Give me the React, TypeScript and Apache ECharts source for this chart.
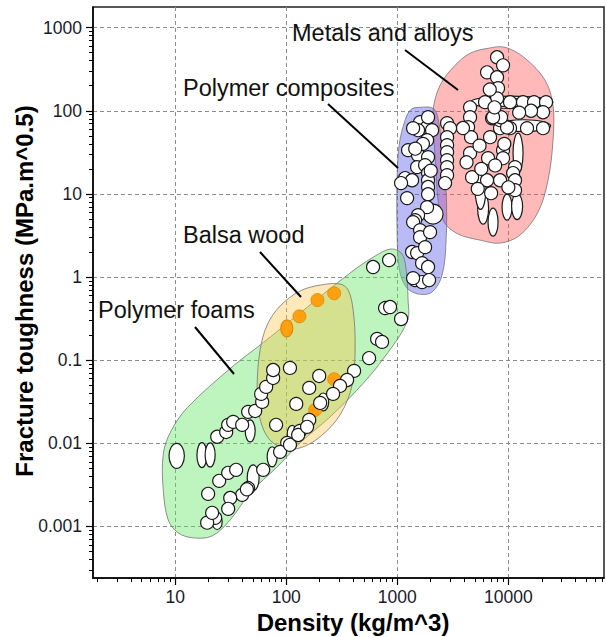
import { useEffect, useRef } from 'react';
import * as echarts from 'echarts';

// ---------------- data (density kg/m^3, fracture toughness MPa.m^0.5) ----------------
const xTickValues = [10, 100, 1000, 10000];
const yTickValues = [0.001, 0.01, 0.1, 1, 10, 100, 1000];
const xRange = [1.82, 72600];
const yRange = [0.00024, 1770];

// envelopes (outline vertices)
const foamEnvelope = [[861, 2.17], [1059, 2.0], [1175, 1.51], [1250, 0.53], [1225, 0.288], [700, 0.0926], [435, 0.0439], [248, 0.0208], [133, 0.0101], [82.8, 0.0052], [47.3, 0.00254], [31.3, 0.0012], [21.5, 0.00077], [14.5, 0.00073], [10.6, 0.00084], [8.65, 0.0012], [7.8, 0.0028], [7.8, 0.0073], [9.0, 0.0134], [12.8, 0.0267], [33.3, 0.0853], [58.2, 0.152], [133, 0.369], [376, 1.12], [631, 1.79]];
const balsaEnvelope = [[305, 0.824], [361, 0.698], [400, 0.401], [417, 0.152], [392, 0.0504], [305, 0.022], [202, 0.012], [133, 0.0088], [93.8, 0.0088], [68.7, 0.0116], [57, 0.022], [54.7, 0.0504], [58.2, 0.133], [67.3, 0.265], [88, 0.448], [133, 0.679], [202, 0.80]];
const compositeEnvelope = [[1603, 110], [2099, 107], [2328, 81.3], [2530, 33.6], [2750, 11.1], [2750, 2.78], [2530, 1.06], [2056, 0.66], [1538, 0.625], [1200, 0.759], [1038, 1.28], [995, 3.67], [995, 14.6], [1038, 38.5], [1175, 77], [1331, 104]];
const metalEnvelope = [[6561, 564], [9333, 580], [14130, 428], [21380, 233], [25230, 116], [25230, 44.3], [22750, 14.6], [18490, 6.04], [12740, 3.2], [8414, 2.56], [5560, 2.78], [3524, 3.29], [2638, 4.58], [2328, 8.4], [2234, 19.3], [2143, 44.3], [2099, 101], [2427, 203], [3311, 352], [4519, 491]];

// single-valued materials
const foamPoints = [[605, 1.32], [843, 1.6], [776, 0.424], [861, 0.436], [1081, 0.313], [658, 0.18], [729, 0.166], [557, 0.106], [408, 0.0743], [353, 0.0578], [305, 0.049], [264, 0.0393], [202, 0.0306], [161, 0.0191], [133, 0.0141], [102, 0.0101], [88, 0.0079], [62, 0.0048], [45.4, 0.0029], [40.1, 0.0024], [31.3, 0.0022], [30, 0.00163], [22.9, 0.00127], [19.4, 0.00111], [21.5, 0.00146], [19.8, 0.00247], [24.9, 0.00354], [30, 0.00442], [35.4, 0.0048], [23.9, 0.012], [28.8, 0.0137], [30, 0.0167], [33.3, 0.0181], [40.1, 0.0167], [45.4, 0.0239], [52.5, 0.0245], [60.7, 0.0315], [59.4, 0.0393], [65.9, 0.0477], [76.2, 0.0611], [76.2, 0.0762], [108, 0.0807], [198, 0.0646], [161, 0.0464], [123, 0.0298], [81, 0.0167], [108, 0.0096], [128, 0.0126], [154, 0.0158], [44.2, 0.0028]];
const balsaPoints = [[131.5, 0.337], [191, 0.529], [270, 0.637], [270, 0.059], [182, 0.0252]];
const compositePoints = [[1603, 72.8], [1853, 63.4], [1538, 58.4], [2056, 58.4], [1892, 83.6], [1387, 61.7], [1853, 44.3], [1250, 33.6], [1538, 29.2], [1892, 27.7], [1507, 21], [1778, 22.2], [2806, 70.8], [2985, 61.7], [2806, 48.1], [2806, 38.5], [2806, 31.8], [2806, 25.5], [2806, 21], [2806, 16.8], [2692, 13.5], [1892, 17.8], [1892, 14.6], [1892, 12.1], [1892, 9.9], [1175, 15.5], [1358, 14.6], [1081, 13.5], [1225, 8.9], [1853, 6.93], [1538, 5.56], [1445, 4.84], [1387, 4.58], [1603, 3.67], [1603, 3.02], [1972, 3.47], [1358, 2.0], [1507, 1.94], [1778, 2.29], [1671, 1.47], [1892, 1.32], [1445, 0.92], [1671, 0.87], [1932, 0.92], [1387, 0.97], [1700, 40], [1450, 35], [2000, 19]];
const metalPoints = [[7907, 440], [8954, 352], [6427, 290], [7907, 253], [8072, 187], [7907, 141], [6166, 127], [10350, 127], [13550, 127], [17020, 127], [21830, 127], [20510, 96], [20510, 61.7], [14720, 61.7], [10350, 61.7], [8414, 61.7], [7130, 81.3], [8414, 77], [4519, 110], [4519, 83.6], [4335, 63.4], [4613, 48.1], [4519, 30.9], [4710, 15.9], [6840, 48.1], [8954, 33.6], [8954, 26.9], [11480, 21], [11020, 17.8], [11480, 14.6], [11480, 11.1], [8414, 14.6], [6990, 10.2], [6427, 14.6], [9730, 63], [8590, 83.6], [7280, 83.6], [6561, 26.9], [7500, 110], [9200, 40], [7600, 22], [10000, 12], [5700, 20], [5500, 38], [5300, 11.5], [6800, 180], [3900, 62], [4200, 24], [16000, 100], [12500, 95]];

// ranged materials: [densityLow, densityHigh, toughnessLow, toughnessHigh]
const foamRanges = [[8.8, 12.1, 0.005, 0.01], [15.7, 19.3, 0.0051, 0.0102], [18.6, 22.9, 0.0052, 0.0101], [42.7, 52.5, 0.0104, 0.0191], [44.5, 57, 0.00268, 0.0055], [67.3, 82.8, 0.0052, 0.0091], [102, 125, 0.0103, 0.0164], [192, 241, 0.0245, 0.0403], [21.5, 26.5, 0.00092, 0.0014]];
const balsaRanges = [[89.3, 114.6, 0.191, 0.306]];
const compositeRanges = [[1706, 2582, 4.33, 7.53]];
const metalRanges = [[5284, 6637, 4.32, 10.5], [6561, 8072, 3.1, 6.75], [8770, 10790, 4.84, 9.93], [10690, 13430, 4.9, 10.1], [11020, 13550, 17.8, 53.7], [5000, 6300, 6.5, 22], [4519, 25230, 107, 150], [8000, 24000, 56, 78], [5500, 22000, 112, 140]];

// ---------------- helpers ----------------
const lg = Math.log10;
const FONT = "'Liberation Sans', Arial, sans-serif";
const fmt = (v: number) => {
  const e = Math.round(v);
  return e >= 0 ? String(Math.pow(10, e)) : Math.pow(10, e).toFixed(-e);
};

const minorX: number[] = [];
const minorY: number[] = [];
for (let e = -5; e <= 5; e++) {
  for (let m = 2; m <= 9; m++) {
    const v = m * Math.pow(10, e);
    if (v > xRange[0] && v < xRange[1]) minorX.push(lg(v));
    if (v > yRange[0] && v < yRange[1]) minorY.push(lg(v));
  }
}

const envelopeSeries = (pts: number[][], fill: string) => ({
  type: 'custom',
  silent: true,
  xAxisIndex: 0,
  yAxisIndex: 0,
  data: [[lg(pts[0][0]), lg(pts[0][1])]],
  renderItem: (_p: any, api: any) => ({
    type: 'polygon',
    shape: { points: pts.map((p) => api.coord([lg(p[0]), lg(p[1])])), smooth: 0.35 },
    style: { fill, stroke: 'rgba(110,110,110,0.75)', lineWidth: 1 },
  }),
});

const rangeSeries = (rows: number[][], fill: string, stroke: string) => ({
  type: 'custom',
  silent: true,
  xAxisIndex: 0,
  yAxisIndex: 0,
  encode: { x: [0, 1], y: [2, 3] },
  data: rows.map((r) => [lg(r[0]), lg(r[1]), lg(r[2]), lg(r[3])]),
  renderItem: (_p: any, api: any) => {
    const a = api.coord([api.value(0), api.value(2)]);
    const b = api.coord([api.value(1), api.value(3)]);
    return {
      type: 'ellipse',
      shape: {
        cx: (a[0] + b[0]) / 2,
        cy: (a[1] + b[1]) / 2,
        rx: Math.abs(b[0] - a[0]) / 2,
        ry: Math.abs(b[1] - a[1]) / 2,
      },
      style: { fill, stroke, lineWidth: 1.2 },
    };
  },
});

const pointSeries = (rows: number[][], fill: string, stroke: string, bw: number) => ({
  type: 'scatter',
  silent: true,
  xAxisIndex: 0,
  yAxisIndex: 0,
  symbol: 'circle',
  symbolSize: 13,
  data: rows.map((r) => [lg(r[0]), lg(r[1])]),
  itemStyle: { color: fill, borderColor: stroke, borderWidth: bw, opacity: 1 },
});

const axisCommon = {
  type: 'value',
  axisLine: { show: true, onZero: false, lineStyle: { color: '#000', width: 1.5 } },
  splitLine: { show: true, lineStyle: { color: '#8c8c8c', type: [4, 3], width: 1 } },
};

const minorAxis = (range: number[], pos: string, values: number[]) => ({
  type: 'value',
  min: lg(range[0]),
  max: lg(range[1]),
  position: pos,
  offset: 0,
  axisLine: { show: false, onZero: false },
  axisTick: { show: true, length: 4, customValues: values, lineStyle: { color: '#000', width: 1 } },
  axisLabel: { show: false },
  splitLine: { show: false },
});

const option: any = {
  animation: false,
  grid: { left: 93, right: 2, top: 7, bottom: 59, show: true, borderColor: '#222', borderWidth: 1.5, outerBoundsMode: 'none' },
  xAxis: [
    {
      ...axisCommon,
      min: lg(xRange[0]),
      max: lg(xRange[1]),
      position: 'bottom',
      axisTick: { show: true, length: 7, customValues: xTickValues.map(lg), lineStyle: { color: '#000', width: 1.2 } },
      axisLabel: { customValues: xTickValues.map(lg), formatter: fmt, margin: 10, fontSize: 17.5, color: '#1a1a2e', fontFamily: FONT },
    },
    minorAxis(xRange, 'bottom', minorX),
  ],
  yAxis: [
    {
      ...axisCommon,
      min: lg(yRange[0]),
      max: lg(yRange[1]),
      position: 'left',
      axisTick: { show: true, length: 7, customValues: yTickValues.map(lg), lineStyle: { color: '#000', width: 1.2 } },
      axisLabel: { customValues: yTickValues.map(lg), formatter: fmt, margin: 11, fontSize: 17.5, color: '#1a1a2e', fontFamily: FONT },
    },
    minorAxis(yRange, 'left', minorY),
  ],
  series: [
    envelopeSeries(metalEnvelope, 'rgba(255,80,80,0.4)'),
    envelopeSeries(compositeEnvelope, 'rgba(90,90,235,0.42)'),
    envelopeSeries(foamEnvelope, 'rgba(100,230,100,0.42)'),
    envelopeSeries(balsaEnvelope, 'rgba(255,190,60,0.36)'),
    rangeSeries(metalRanges, '#fff', '#1a1a1a'),
    pointSeries(metalPoints, '#fff', '#1a1a1a', 1.2),
    rangeSeries(compositeRanges, '#fff', '#1a1a1a'),
    pointSeries(compositePoints, '#fff', '#1a1a1a', 1.2),
    rangeSeries(balsaRanges, '#ffa010', '#e08a00'),
    pointSeries(balsaPoints, '#ffa010', '#e08a00', 0.8),
    rangeSeries(foamRanges, '#fff', '#1a1a1a'),
    pointSeries(foamPoints, '#fff', '#1a1a1a', 1.2),
  ],
  graphic: [
    { type: 'text', x: 292, y: 33, z: 100, style: { text: 'Metals and alloys', fontSize: 23.5, fontFamily: FONT, fill: '#111', align: 'left', verticalAlign: 'middle' } },
    { type: 'text', x: 183, y: 88, z: 100, style: { text: 'Polymer composites', fontSize: 23.5, fontFamily: FONT, fill: '#111', align: 'left', verticalAlign: 'middle' } },
    { type: 'text', x: 183, y: 235, z: 100, style: { text: 'Balsa wood', fontSize: 23.5, fontFamily: FONT, fill: '#111', align: 'left', verticalAlign: 'middle' } },
    { type: 'text', x: 98, y: 310, z: 100, style: { text: 'Polymer foams', fontSize: 23.5, fontFamily: FONT, fill: '#111', align: 'left', verticalAlign: 'middle' } },
    { type: 'line', z: 100, shape: { x1: 405, y1: 50, x2: 458, y2: 90 }, style: { stroke: '#000', lineWidth: 2 } },
    { type: 'line', z: 100, shape: { x1: 328, y1: 104, x2: 398, y2: 168 }, style: { stroke: '#000', lineWidth: 2 } },
    { type: 'line', z: 100, shape: { x1: 260, y1: 252, x2: 301, y2: 297 }, style: { stroke: '#000', lineWidth: 2 } },
    { type: 'line', z: 100, shape: { x1: 195, y1: 327, x2: 234, y2: 374 }, style: { stroke: '#000', lineWidth: 2 } },
    { type: 'text', x: 353, y: 622, z: 100, style: { text: 'Density (kg/m^3)', fontSize: 24, fontWeight: 'bold', fontFamily: FONT, fill: '#000', align: 'center', verticalAlign: 'middle' } },
    { type: 'text', x: 24, y: 291, z: 100, rotation: Math.PI / 2, style: { text: 'Fracture toughness (MPa.m^0.5)', fontSize: 24, fontWeight: 'bold', fontFamily: FONT, fill: '#000', align: 'center', verticalAlign: 'middle' } },
  ],
};

export default function App() {
  const ref = useRef<HTMLDivElement>(null);
  useEffect(() => {
    document.body.style.margin = '0';
    const chart = echarts.init(ref.current!, null, { renderer: 'svg' });
    chart.setOption(option);
    return () => chart.dispose();
  }, []);
  return <div ref={ref} style={{ width: 606, height: 637 }} />;
}
